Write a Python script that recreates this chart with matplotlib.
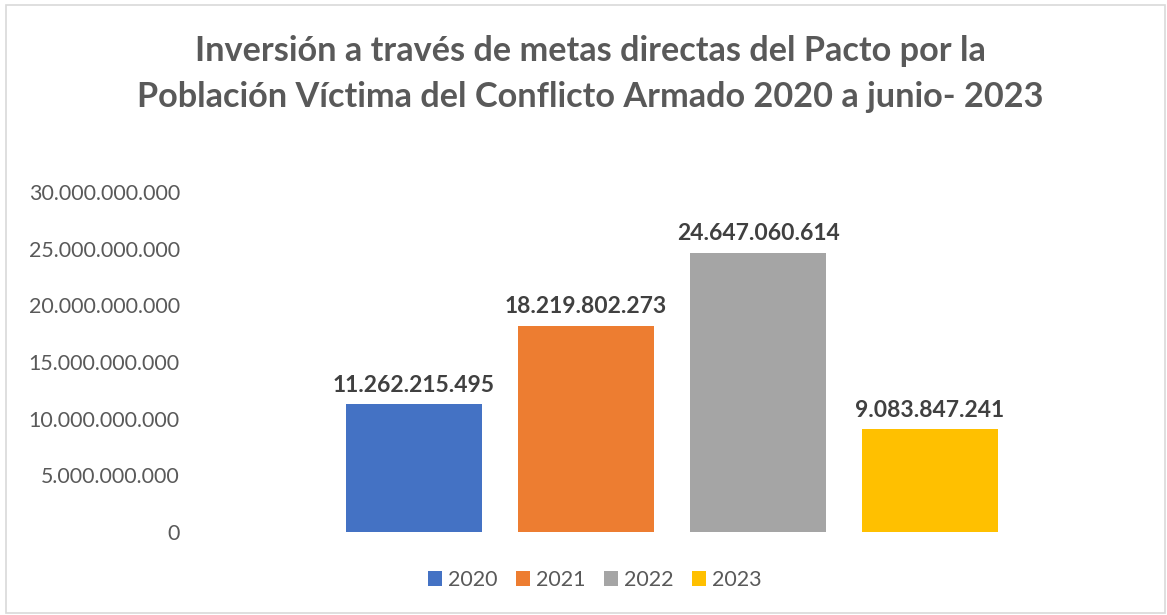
import matplotlib.pyplot as plt
from matplotlib.ticker import FuncFormatter, MultipleLocator
from matplotlib.patches import Rectangle

years = ["2020", "2021", "2022", "2023"]
values = [11262215495, 18219802273, 24647060614, 9083847241]
colors = ["#4472C4", "#ED7D31", "#A5A5A5", "#FFC000"]
title = ("Inversión a través de metas directas del Pacto por la\n"
         "Población Víctima del Conflicto Armado 2020 a junio- 2023")

plt.rcParams['font.family'] = ['Lato', 'DejaVu Sans']

W, H = 1167, 615
fig = plt.figure(figsize=(W / 100, H / 100), dpi=100)

# chart border like the Excel frame
fig.patches.append(Rectangle((6 / W, 2 / H), (W - 8) / W, (H - 7) / H,
                             transform=fig.transFigure, fill=False,
                             edgecolor="#D9D9D9", linewidth=1.2))

ax = fig.add_axes([184 / W, 83 / H, (1160 - 184) / W, (423 - 83) / H])

def dots(v, pos=None):
    return f"{int(round(v)):,}".replace(",", ".")

x = list(range(len(values)))
bars = ax.bar(x, values, width=0.79, color=colors, label=years)
for xi, v in zip(x, values):
    ax.text(xi, v + 0.75e9, dots(v), ha="center", va="bottom",
            fontsize=16.5, fontweight="bold", color="#404040")

ax.set_ylim(0, 30e9)
ax.set_xlim(-1.337, 4.337)
ax.yaxis.set_major_locator(MultipleLocator(5e9))
ax.yaxis.set_major_formatter(FuncFormatter(dots))
ax.tick_params(axis="y", length=0, labelsize=15.4, labelcolor="#595959", pad=3)
ax.set_xticks([])
for s in ax.spines.values():
    s.set_visible(False)

fig.text(590 / W, 1 - 74 / H, title, ha="center", va="center",
         fontsize=24.7, fontweight="bold", color="#595959", linespacing=1.55)

fig.legend(handles=bars.patches, labels=years, loc="center",
           bbox_to_anchor=(595 / W, 1 - 580 / H), ncol=4, frameon=False,
           fontsize=15.5, labelcolor="#595959", handlelength=0.64,
           handleheight=0.64, handletextpad=0.3, columnspacing=0.85)

fig.savefig("out.png", dpi=100)
